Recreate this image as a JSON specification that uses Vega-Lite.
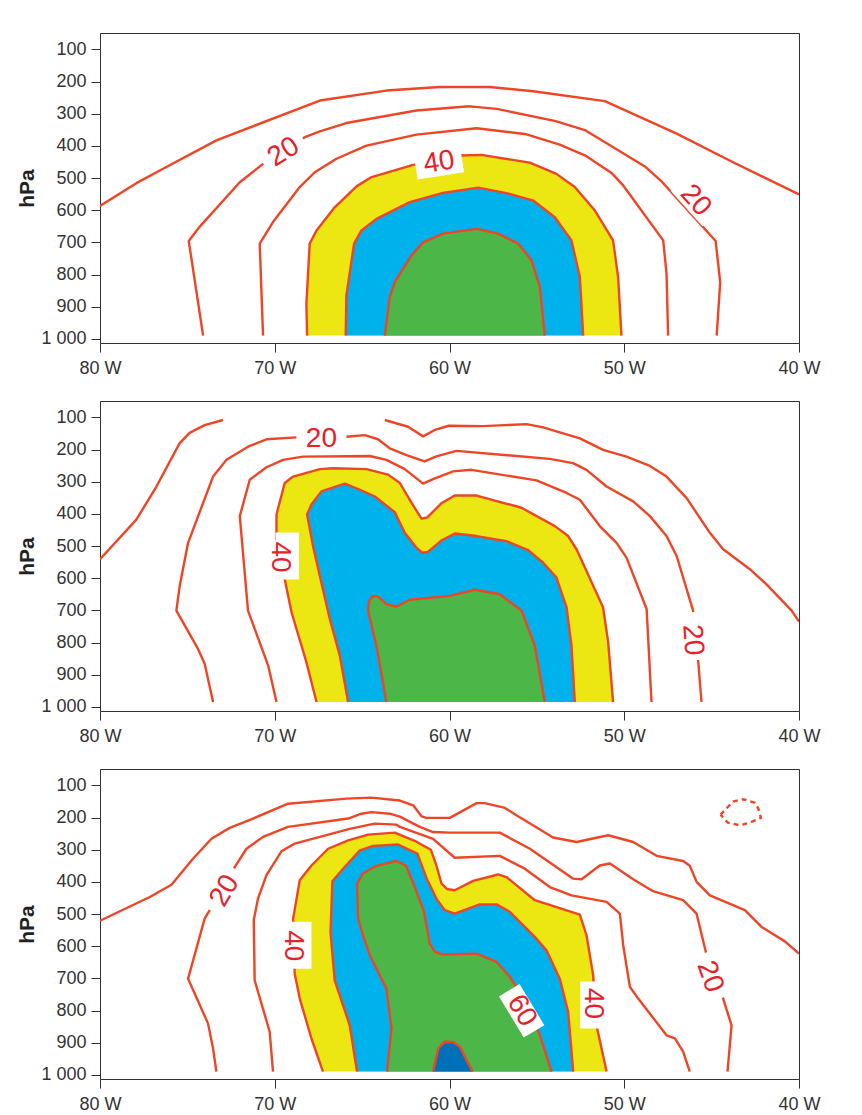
{
"$schema": "https://vega.github.io/schema/vega-lite/v6.json",
"padding": {"left": 15, "top": 32, "right": 5, "bottom": 2},
"background": "white",
"datasets": {
"pts": [
{"n":1,"k":"l","id":"1a","i":0,"x":-80,"p":587},{"n":1,"k":"l","id":"1a","i":1,"x":-77.92,"p":516},{"n":1,"k":"l","id":"1a","i":2,"x":-76.39,"p":471},{"n":1,"k":"l","id":"1a","i":3,"x":-73.34,"p":383},{"n":1,"k":"l","id":"1a","i":4,"x":-67.42,"p":259},{"n":1,"k":"l","id":"1a","i":5,"x":-63.61,"p":228},{"n":1,"k":"l","id":"1a","i":6,"x":-60.56,"p":217},{"n":1,"k":"l","id":"1a","i":7,"x":-57.7,"p":217},{"n":1,"k":"l","id":"1a","i":8,"x":-55.21,"p":230},{"n":1,"k":"l","id":"1a","i":9,"x":-51.11,"p":261},{"n":1,"k":"l","id":"1a","i":10,"x":-47.0,"p":362},{"n":1,"k":"l","id":"1a","i":11,"x":-43.77,"p":451},{"n":1,"k":"l","id":"1a","i":12,"x":-40,"p":551},
{"n":1,"k":"l","id":"1b","i":0,"x":-74.1,"p":990},{"n":1,"k":"l","id":"1b","i":1,"x":-74.92,"p":696},{"n":1,"k":"l","id":"1b","i":2,"x":-74.29,"p":651},{"n":1,"k":"l","id":"1b","i":3,"x":-72.0,"p":513},{"n":1,"k":"l","id":"1b","i":4,"x":-70.67,"p":456},{"n":1,"k":"l","id":"1b","i":5,"x":-68.28,"p":373},{"n":1,"k":"l","id":"1b","i":6,"x":-67.42,"p":355},{"n":1,"k":"l","id":"1b","i":7,"x":-65.9,"p":329},{"n":1,"k":"l","id":"1b","i":8,"x":-61.89,"p":290},{"n":1,"k":"l","id":"1b","i":9,"x":-58.84,"p":277},{"n":1,"k":"l","id":"1b","i":10,"x":-57.29,"p":285},{"n":1,"k":"l","id":"1b","i":11,"x":-53.92,"p":323},{"n":1,"k":"l","id":"1b","i":12,"x":-52.21,"p":352},{"n":1,"k":"l","id":"1b","i":13,"x":-48.77,"p":466},{"n":1,"k":"l","id":"1b","i":14,"x":-47.82,"p":513},{"n":1,"k":"l","id":"1b","i":15,"x":-45.91,"p":627},{"n":1,"k":"l","id":"1b","i":16,"x":-44.77,"p":696},{"n":1,"k":"l","id":"1b","i":17,"x":-44.51,"p":824},{"n":1,"k":"l","id":"1b","i":18,"x":-44.71,"p":990},
{"n":1,"k":"l","id":"1c","i":0,"x":-70.67,"p":990},{"n":1,"k":"l","id":"1c","i":1,"x":-70.86,"p":704},{"n":1,"k":"l","id":"1c","i":2,"x":-70.1,"p":637},{"n":1,"k":"l","id":"1c","i":3,"x":-68.57,"p":528},{"n":1,"k":"l","id":"1c","i":4,"x":-67.71,"p":482},{"n":1,"k":"l","id":"1c","i":5,"x":-66.47,"p":440},{"n":1,"k":"l","id":"1c","i":6,"x":-64.75,"p":399},{"n":1,"k":"l","id":"1c","i":7,"x":-61.89,"p":365},{"n":1,"k":"l","id":"1c","i":8,"x":-58.45,"p":345},{"n":1,"k":"l","id":"1c","i":9,"x":-55.59,"p":364},{"n":1,"k":"l","id":"1c","i":10,"x":-53.69,"p":396},{"n":1,"k":"l","id":"1c","i":11,"x":-52.16,"p":432},{"n":1,"k":"l","id":"1c","i":12,"x":-50.73,"p":484},{"n":1,"k":"l","id":"1c","i":13,"x":-50.06,"p":523},{"n":1,"k":"l","id":"1c","i":14,"x":-47.77,"p":694},{"n":1,"k":"l","id":"1c","i":15,"x":-47.58,"p":798},{"n":1,"k":"l","id":"1c","i":16,"x":-47.49,"p":990},
{"n":1,"k":"y","id":"1y","i":0,"x":-68.15,"p":990},{"n":1,"k":"y","id":"1y","i":1,"x":-68.19,"p":891},{"n":1,"k":"y","id":"1y","i":2,"x":-68.0,"p":704},{"n":1,"k":"y","id":"1y","i":3,"x":-67.61,"p":663},{"n":1,"k":"y","id":"1y","i":4,"x":-66.57,"p":591},{"n":1,"k":"y","id":"1y","i":5,"x":-65.32,"p":526},{"n":1,"k":"y","id":"1y","i":6,"x":-64.46,"p":497},{"n":1,"k":"y","id":"1y","i":7,"x":-62.08,"p":459},{"n":1,"k":"y","id":"1y","i":8,"x":-60.56,"p":445},{"n":1,"k":"y","id":"1y","i":9,"x":-59.31,"p":430},{"n":1,"k":"y","id":"1y","i":10,"x":-58.17,"p":428},{"n":1,"k":"y","id":"1y","i":11,"x":-55.4,"p":452},{"n":1,"k":"y","id":"1y","i":12,"x":-53.88,"p":487},{"n":1,"k":"y","id":"1y","i":13,"x":-52.83,"p":528},{"n":1,"k":"y","id":"1y","i":14,"x":-51.68,"p":601},{"n":1,"k":"y","id":"1y","i":15,"x":-50.64,"p":694},{"n":1,"k":"y","id":"1y","i":16,"x":-50.35,"p":808},{"n":1,"k":"y","id":"1y","i":17,"x":-50.16,"p":990},
{"n":1,"k":"c","id":"1cy","i":0,"x":-65.94,"p":990},{"n":1,"k":"c","id":"1cy","i":1,"x":-65.9,"p":865},{"n":1,"k":"c","id":"1cy","i":2,"x":-65.46,"p":704},{"n":1,"k":"c","id":"1cy","i":3,"x":-65.04,"p":663},{"n":1,"k":"c","id":"1cy","i":4,"x":-64.18,"p":627},{"n":1,"k":"c","id":"1cy","i":5,"x":-62.27,"p":575},{"n":1,"k":"c","id":"1cy","i":6,"x":-60.37,"p":546},{"n":1,"k":"c","id":"1cy","i":7,"x":-58.36,"p":530},{"n":1,"k":"c","id":"1cy","i":8,"x":-56.74,"p":547},{"n":1,"k":"c","id":"1cy","i":9,"x":-55.21,"p":570},{"n":1,"k":"c","id":"1cy","i":10,"x":-53.97,"p":622},{"n":1,"k":"c","id":"1cy","i":11,"x":-53.02,"p":694},{"n":1,"k":"c","id":"1cy","i":12,"x":-52.54,"p":808},{"n":1,"k":"c","id":"1cy","i":13,"x":-52.35,"p":990},
{"n":1,"k":"g","id":"1g","i":0,"x":-63.7,"p":990},{"n":1,"k":"g","id":"1g","i":1,"x":-63.42,"p":871},{"n":1,"k":"g","id":"1g","i":2,"x":-63.13,"p":824},{"n":1,"k":"g","id":"1g","i":3,"x":-62.18,"p":741},{"n":1,"k":"g","id":"1g","i":4,"x":-61.51,"p":700},{"n":1,"k":"g","id":"1g","i":5,"x":-60.37,"p":673},{"n":1,"k":"g","id":"1g","i":6,"x":-58.45,"p":658},{"n":1,"k":"g","id":"1g","i":7,"x":-57.22,"p":673},{"n":1,"k":"g","id":"1g","i":8,"x":-56.07,"p":704},{"n":1,"k":"g","id":"1g","i":9,"x":-55.31,"p":756},{"n":1,"k":"g","id":"1g","i":10,"x":-54.83,"p":839},{"n":1,"k":"g","id":"1g","i":11,"x":-54.55,"p":990},
{"n":1,"k":"bx","x":-69.48,"p":420,"a":-32,"s":2209},{"n":1,"k":"bx","x":-60.6,"p":457,"a":-9,"s":2209},{"n":1,"k":"bx","x":-45.92,"p":570,"a":48,"s":2304},
{"n":1,"k":"t","x":-69.48,"p":420,"a":-32,"t":"20"},{"n":1,"k":"t","x":-60.6,"p":452,"a":-9,"t":"40"},{"n":1,"k":"t","x":-45.92,"p":570,"a":48,"t":"20"},

{"n":2,"k":"l","id":"2a1","i":0,"x":-80,"p":541},{"n":2,"k":"l","id":"2a1","i":1,"x":-77.92,"p":418},{"n":2,"k":"l","id":"2a1","i":2,"x":-76.77,"p":315},{"n":2,"k":"l","id":"2a1","i":3,"x":-75.44,"p":180},{"n":2,"k":"l","id":"2a1","i":4,"x":-74.87,"p":148},{"n":2,"k":"l","id":"2a1","i":5,"x":-74.01,"p":124},{"n":2,"k":"l","id":"2a1","i":6,"x":-72.96,"p":108},
{"n":2,"k":"l","id":"2a2","i":0,"x":-63.7,"p":108},{"n":2,"k":"l","id":"2a2","i":1,"x":-62.37,"p":129},{"n":2,"k":"l","id":"2a2","i":2,"x":-61.51,"p":159},{"n":2,"k":"l","id":"2a2","i":3,"x":-60.84,"p":139},{"n":2,"k":"l","id":"2a2","i":4,"x":-60.04,"p":126},{"n":2,"k":"l","id":"2a2","i":5,"x":-58.08,"p":127},{"n":2,"k":"l","id":"2a2","i":6,"x":-55.59,"p":121},{"n":2,"k":"l","id":"2a2","i":7,"x":-54.64,"p":131},{"n":2,"k":"l","id":"2a2","i":8,"x":-52.54,"p":165},{"n":2,"k":"l","id":"2a2","i":9,"x":-51.21,"p":201},{"n":2,"k":"l","id":"2a2","i":10,"x":-49.87,"p":222},{"n":2,"k":"l","id":"2a2","i":11,"x":-48.53,"p":251},{"n":2,"k":"l","id":"2a2","i":12,"x":-47.58,"p":284},{"n":2,"k":"l","id":"2a2","i":13,"x":-46.43,"p":351},{"n":2,"k":"l","id":"2a2","i":14,"x":-45.1,"p":459},{"n":2,"k":"l","id":"2a2","i":15,"x":-44.34,"p":510},{"n":2,"k":"l","id":"2a2","i":16,"x":-42.81,"p":572},{"n":2,"k":"l","id":"2a2","i":17,"x":-41.86,"p":619},{"n":2,"k":"l","id":"2a2","i":18,"x":-40.42,"p":701},{"n":2,"k":"l","id":"2a2","i":19,"x":-40,"p":735},
{"n":2,"k":"l","id":"2b","i":0,"x":-73.53,"p":985},{"n":2,"k":"l","id":"2b","i":1,"x":-74.01,"p":866},{"n":2,"k":"l","id":"2b","i":2,"x":-74.39,"p":820},{"n":2,"k":"l","id":"2b","i":3,"x":-75.63,"p":701},{"n":2,"k":"l","id":"2b","i":4,"x":-75.44,"p":624},{"n":2,"k":"l","id":"2b","i":5,"x":-74.96,"p":490},{"n":2,"k":"l","id":"2b","i":6,"x":-73.53,"p":284},{"n":2,"k":"l","id":"2b","i":7,"x":-72.76,"p":232},{"n":2,"k":"l","id":"2b","i":8,"x":-71.53,"p":191},{"n":2,"k":"l","id":"2b","i":9,"x":-70.47,"p":168},{"n":2,"k":"l","id":"2b","i":10,"x":-68.76,"p":162},{"n":2,"k":"l","id":"2b","i":11,"x":-67.33,"p":161},{"n":2,"k":"l","id":"2b","i":12,"x":-65.9,"p":160},{"n":2,"k":"l","id":"2b","i":13,"x":-64.85,"p":155},{"n":2,"k":"l","id":"2b","i":14,"x":-64.09,"p":168},{"n":2,"k":"l","id":"2b","i":15,"x":-63.42,"p":196},{"n":2,"k":"l","id":"2b","i":16,"x":-62.46,"p":217},{"n":2,"k":"l","id":"2b","i":17,"x":-61.42,"p":237},{"n":2,"k":"l","id":"2b","i":18,"x":-60.75,"p":221},{"n":2,"k":"l","id":"2b","i":19,"x":-59.6,"p":204},{"n":2,"k":"l","id":"2b","i":20,"x":-54.26,"p":229},{"n":2,"k":"l","id":"2b","i":21,"x":-52.93,"p":242},{"n":2,"k":"l","id":"2b","i":22,"x":-52.16,"p":263},{"n":2,"k":"l","id":"2b","i":23,"x":-51.01,"p":315},{"n":2,"k":"l","id":"2b","i":24,"x":-49.49,"p":361},{"n":2,"k":"l","id":"2b","i":25,"x":-48.53,"p":407},{"n":2,"k":"l","id":"2b","i":26,"x":-47.58,"p":469},{"n":2,"k":"l","id":"2b","i":27,"x":-47.0,"p":531},{"n":2,"k":"l","id":"2b","i":28,"x":-46.06,"p":701},{"n":2,"k":"l","id":"2b","i":29,"x":-45.9,"p":780},{"n":2,"k":"l","id":"2b","i":30,"x":-45.77,"p":856},{"n":2,"k":"l","id":"2b","i":31,"x":-45.58,"p":985},
{"n":2,"k":"l","id":"2c","i":0,"x":-69.9,"p":985},{"n":2,"k":"l","id":"2c","i":1,"x":-70.38,"p":871},{"n":2,"k":"l","id":"2c","i":2,"x":-71.53,"p":701},{"n":2,"k":"l","id":"2c","i":3,"x":-72.0,"p":407},{"n":2,"k":"l","id":"2c","i":4,"x":-71.43,"p":294},{"n":2,"k":"l","id":"2c","i":5,"x":-70.47,"p":255},{"n":2,"k":"l","id":"2c","i":6,"x":-69.52,"p":232},{"n":2,"k":"l","id":"2c","i":7,"x":-68.38,"p":222},{"n":2,"k":"l","id":"2c","i":8,"x":-64.56,"p":220},{"n":2,"k":"l","id":"2c","i":9,"x":-63.61,"p":232},{"n":2,"k":"l","id":"2c","i":10,"x":-62.56,"p":261},{"n":2,"k":"l","id":"2c","i":11,"x":-61.51,"p":306},{"n":2,"k":"l","id":"2c","i":12,"x":-60.94,"p":292},{"n":2,"k":"l","id":"2c","i":13,"x":-59.79,"p":268},{"n":2,"k":"l","id":"2c","i":14,"x":-58.74,"p":263},{"n":2,"k":"l","id":"2c","i":15,"x":-55.02,"p":296},{"n":2,"k":"l","id":"2c","i":16,"x":-53.3,"p":335},{"n":2,"k":"l","id":"2c","i":17,"x":-52.54,"p":356},{"n":2,"k":"l","id":"2c","i":18,"x":-51.4,"p":438},{"n":2,"k":"l","id":"2c","i":19,"x":-50.44,"p":490},{"n":2,"k":"l","id":"2c","i":20,"x":-49.87,"p":536},{"n":2,"k":"l","id":"2c","i":21,"x":-48.72,"p":696},{"n":2,"k":"l","id":"2c","i":22,"x":-48.44,"p":985},
{"n":2,"k":"y","id":"2y","i":0,"x":-67.61,"p":985},{"n":2,"k":"y","id":"2y","i":1,"x":-68.19,"p":861},{"n":2,"k":"y","id":"2y","i":2,"x":-69.04,"p":706},{"n":2,"k":"y","id":"2y","i":3,"x":-69.43,"p":603},{"n":2,"k":"y","id":"2y","i":4,"x":-69.9,"p":480},{"n":2,"k":"y","id":"2y","i":5,"x":-69.9,"p":402},{"n":2,"k":"y","id":"2y","i":6,"x":-69.43,"p":304},{"n":2,"k":"y","id":"2y","i":7,"x":-68.95,"p":284},{"n":2,"k":"y","id":"2y","i":8,"x":-67.42,"p":261},{"n":2,"k":"y","id":"2y","i":9,"x":-66.66,"p":258},{"n":2,"k":"y","id":"2y","i":10,"x":-64.75,"p":261},{"n":2,"k":"y","id":"2y","i":11,"x":-63.51,"p":278},{"n":2,"k":"y","id":"2y","i":12,"x":-62.84,"p":304},{"n":2,"k":"y","id":"2y","i":13,"x":-62.17,"p":366},{"n":2,"k":"y","id":"2y","i":14,"x":-61.6,"p":415},{"n":2,"k":"y","id":"2y","i":15,"x":-61.27,"p":411},{"n":2,"k":"y","id":"2y","i":16,"x":-60.44,"p":366},{"n":2,"k":"y","id":"2y","i":17,"x":-59.7,"p":343},{"n":2,"k":"y","id":"2y","i":18,"x":-58.45,"p":343},{"n":2,"k":"y","id":"2y","i":19,"x":-55.88,"p":381},{"n":2,"k":"y","id":"2y","i":20,"x":-53.97,"p":438},{"n":2,"k":"y","id":"2y","i":21,"x":-53.21,"p":469},{"n":2,"k":"y","id":"2y","i":22,"x":-52.73,"p":510},{"n":2,"k":"y","id":"2y","i":23,"x":-51.21,"p":691},{"n":2,"k":"y","id":"2y","i":24,"x":-50.92,"p":799},{"n":2,"k":"y","id":"2y","i":25,"x":-50.64,"p":985},
{"n":2,"k":"c","id":"2cy","i":0,"x":-65.8,"p":985},{"n":2,"k":"c","id":"2cy","i":1,"x":-66.28,"p":840},{"n":2,"k":"c","id":"2cy","i":2,"x":-66.85,"p":727},{"n":2,"k":"c","id":"2cy","i":3,"x":-67.42,"p":593},{"n":2,"k":"c","id":"2cy","i":4,"x":-67.81,"p":500},{"n":2,"k":"c","id":"2cy","i":5,"x":-68.15,"p":402},{"n":2,"k":"c","id":"2cy","i":6,"x":-67.9,"p":371},{"n":2,"k":"c","id":"2cy","i":7,"x":-67.33,"p":330},{"n":2,"k":"c","id":"2cy","i":8,"x":-65.99,"p":306},{"n":2,"k":"c","id":"2cy","i":9,"x":-65.13,"p":325},{"n":2,"k":"c","id":"2cy","i":10,"x":-64.27,"p":346},{"n":2,"k":"c","id":"2cy","i":11,"x":-63.13,"p":395},{"n":2,"k":"c","id":"2cy","i":12,"x":-62.56,"p":459},{"n":2,"k":"c","id":"2cy","i":13,"x":-61.89,"p":505},{"n":2,"k":"c","id":"2cy","i":14,"x":-61.55,"p":521},{"n":2,"k":"c","id":"2cy","i":15,"x":-61.24,"p":518},{"n":2,"k":"c","id":"2cy","i":16,"x":-60.44,"p":482},{"n":2,"k":"c","id":"2cy","i":17,"x":-59.7,"p":461},{"n":2,"k":"c","id":"2cy","i":18,"x":-58.45,"p":469},{"n":2,"k":"c","id":"2cy","i":19,"x":-56.74,"p":485},{"n":2,"k":"c","id":"2cy","i":20,"x":-55.5,"p":513},{"n":2,"k":"c","id":"2cy","i":21,"x":-54.64,"p":552},{"n":2,"k":"c","id":"2cy","i":22,"x":-53.88,"p":598},{"n":2,"k":"c","id":"2cy","i":23,"x":-53.3,"p":691},{"n":2,"k":"c","id":"2cy","i":24,"x":-53.02,"p":810},{"n":2,"k":"c","id":"2cy","i":25,"x":-52.83,"p":985},
{"n":2,"k":"g","id":"2g","i":0,"x":-63.61,"p":985},{"n":2,"k":"g","id":"2g","i":1,"x":-64.18,"p":810},{"n":2,"k":"g","id":"2g","i":2,"x":-64.66,"p":701},{"n":2,"k":"g","id":"2g","i":3,"x":-64.6,"p":670},{"n":2,"k":"g","id":"2g","i":4,"x":-64.37,"p":655},{"n":2,"k":"g","id":"2g","i":5,"x":-64.09,"p":657},{"n":2,"k":"g","id":"2g","i":6,"x":-63.61,"p":681},{"n":2,"k":"g","id":"2g","i":7,"x":-63.03,"p":688},{"n":2,"k":"g","id":"2g","i":8,"x":-62.27,"p":667},{"n":2,"k":"g","id":"2g","i":9,"x":-59.98,"p":655},{"n":2,"k":"g","id":"2g","i":10,"x":-58.55,"p":636},{"n":2,"k":"g","id":"2g","i":11,"x":-57.12,"p":650},{"n":2,"k":"g","id":"2g","i":12,"x":-55.88,"p":701},{"n":2,"k":"g","id":"2g","i":13,"x":-55.12,"p":810},{"n":2,"k":"g","id":"2g","i":14,"x":-54.55,"p":985},
{"n":2,"k":"bx","x":-67.33,"p":163,"a":0,"s":2500},{"n":2,"k":"bx","x":-69.28,"p":531,"a":90,"s":2209},{"n":2,"k":"bx","x":-45.96,"p":780,"a":86,"s":2304},
{"n":2,"k":"t","x":-67.33,"p":166,"a":0,"t":"20"},{"n":2,"k":"t","x":-69.72,"p":534,"a":90,"t":"40"},{"n":2,"k":"t","x":-46.1,"p":792,"a":86,"t":"20"},

{"n":3,"k":"l","id":"3a","i":0,"x":-80,"p":521},{"n":3,"k":"l","id":"3a","i":1,"x":-77.15,"p":447},{"n":3,"k":"l","id":"3a","i":2,"x":-75.91,"p":409},{"n":3,"k":"l","id":"3a","i":3,"x":-74.68,"p":328},{"n":3,"k":"l","id":"3a","i":4,"x":-73.62,"p":266},{"n":3,"k":"l","id":"3a","i":5,"x":-72.58,"p":232},{"n":3,"k":"l","id":"3a","i":6,"x":-71.24,"p":203},{"n":3,"k":"l","id":"3a","i":7,"x":-69.24,"p":157},{"n":3,"k":"l","id":"3a","i":8,"x":-65.9,"p":141},{"n":3,"k":"l","id":"3a","i":9,"x":-64.47,"p":138},{"n":3,"k":"l","id":"3a","i":10,"x":-62.84,"p":147},{"n":3,"k":"l","id":"3a","i":11,"x":-62.08,"p":162},{"n":3,"k":"l","id":"3a","i":12,"x":-61.6,"p":196},{"n":3,"k":"l","id":"3a","i":13,"x":-61.32,"p":201},{"n":3,"k":"l","id":"3a","i":14,"x":-59.98,"p":201},{"n":3,"k":"l","id":"3a","i":15,"x":-58.45,"p":155},{"n":3,"k":"l","id":"3a","i":16,"x":-57.98,"p":155},{"n":3,"k":"l","id":"3a","i":17,"x":-56.83,"p":170},{"n":3,"k":"l","id":"3a","i":18,"x":-56.17,"p":193},{"n":3,"k":"l","id":"3a","i":19,"x":-54.07,"p":262},{"n":3,"k":"l","id":"3a","i":20,"x":-52.73,"p":276},{"n":3,"k":"l","id":"3a","i":21,"x":-50.92,"p":255},{"n":3,"k":"l","id":"3a","i":22,"x":-49.49,"p":276},{"n":3,"k":"l","id":"3a","i":23,"x":-48.15,"p":319},{"n":3,"k":"l","id":"3a","i":24,"x":-46.63,"p":335},{"n":3,"k":"l","id":"3a","i":25,"x":-46.25,"p":350},{"n":3,"k":"l","id":"3a","i":26,"x":-45.86,"p":400},{"n":3,"k":"l","id":"3a","i":27,"x":-45.1,"p":442},{"n":3,"k":"l","id":"3a","i":28,"x":-43.1,"p":488},{"n":3,"k":"l","id":"3a","i":29,"x":-42.14,"p":540},{"n":3,"k":"l","id":"3a","i":30,"x":-40.81,"p":585},{"n":3,"k":"l","id":"3a","i":31,"x":-40,"p":623},
{"n":3,"k":"l","id":"3b","i":0,"x":-73.34,"p":990},{"n":3,"k":"l","id":"3b","i":1,"x":-73.53,"p":918},{"n":3,"k":"l","id":"3b","i":2,"x":-73.82,"p":840},{"n":3,"k":"l","id":"3b","i":3,"x":-74.96,"p":701},{"n":3,"k":"l","id":"3b","i":4,"x":-74.48,"p":607},{"n":3,"k":"l","id":"3b","i":5,"x":-74.01,"p":514},{"n":3,"k":"l","id":"3b","i":6,"x":-73.72,"p":488},{"n":3,"k":"l","id":"3b","i":7,"x":-73.0,"p":421},{"n":3,"k":"l","id":"3b","i":8,"x":-72.29,"p":354},{"n":3,"k":"l","id":"3b","i":9,"x":-71.62,"p":297},{"n":3,"k":"l","id":"3b","i":10,"x":-70.67,"p":260},{"n":3,"k":"l","id":"3b","i":11,"x":-69.24,"p":229},{"n":3,"k":"l","id":"3b","i":12,"x":-65.8,"p":203},{"n":3,"k":"l","id":"3b","i":13,"x":-65.04,"p":188},{"n":3,"k":"l","id":"3b","i":14,"x":-64.47,"p":183},{"n":3,"k":"l","id":"3b","i":15,"x":-63.42,"p":188},{"n":3,"k":"l","id":"3b","i":16,"x":-62.84,"p":197},{"n":3,"k":"l","id":"3b","i":17,"x":-61.7,"p":229},{"n":3,"k":"l","id":"3b","i":18,"x":-60.94,"p":245},{"n":3,"k":"l","id":"3b","i":19,"x":-59.98,"p":247},{"n":3,"k":"l","id":"3b","i":20,"x":-57.12,"p":247},{"n":3,"k":"l","id":"3b","i":21,"x":-55.4,"p":297},{"n":3,"k":"l","id":"3b","i":22,"x":-52.92,"p":390},{"n":3,"k":"l","id":"3b","i":23,"x":-52.44,"p":392},{"n":3,"k":"l","id":"3b","i":24,"x":-51.4,"p":349},{"n":3,"k":"l","id":"3b","i":25,"x":-50.82,"p":343},{"n":3,"k":"l","id":"3b","i":26,"x":-49.49,"p":392},{"n":3,"k":"l","id":"3b","i":27,"x":-48.35,"p":429},{"n":3,"k":"l","id":"3b","i":28,"x":-46.63,"p":457},{"n":3,"k":"l","id":"3b","i":29,"x":-45.86,"p":499},{"n":3,"k":"l","id":"3b","i":30,"x":-45.33,"p":618},{"n":3,"k":"l","id":"3b","i":31,"x":-44.85,"p":690},{"n":3,"k":"l","id":"3b","i":32,"x":-44.34,"p":763},{"n":3,"k":"l","id":"3b","i":33,"x":-43.86,"p":846},{"n":3,"k":"l","id":"3b","i":34,"x":-44.09,"p":990},
{"n":3,"k":"l","id":"3c","i":0,"x":-70.1,"p":990},{"n":3,"k":"l","id":"3c","i":1,"x":-70.29,"p":866},{"n":3,"k":"l","id":"3c","i":2,"x":-71.15,"p":706},{"n":3,"k":"l","id":"3c","i":3,"x":-71.2,"p":519},{"n":3,"k":"l","id":"3c","i":4,"x":-70.96,"p":452},{"n":3,"k":"l","id":"3c","i":5,"x":-70.48,"p":380},{"n":3,"k":"l","id":"3c","i":6,"x":-69.62,"p":305},{"n":3,"k":"l","id":"3c","i":7,"x":-68.86,"p":281},{"n":3,"k":"l","id":"3c","i":8,"x":-65.71,"p":235},{"n":3,"k":"l","id":"3c","i":9,"x":-64.28,"p":219},{"n":3,"k":"l","id":"3c","i":10,"x":-63.03,"p":222},{"n":3,"k":"l","id":"3c","i":11,"x":-62.84,"p":229},{"n":3,"k":"l","id":"3c","i":12,"x":-60.94,"p":266},{"n":3,"k":"l","id":"3c","i":13,"x":-59.7,"p":325},{"n":3,"k":"l","id":"3c","i":14,"x":-57.12,"p":319},{"n":3,"k":"l","id":"3c","i":15,"x":-55.69,"p":359},{"n":3,"k":"l","id":"3c","i":16,"x":-54.26,"p":416},{"n":3,"k":"l","id":"3c","i":17,"x":-53.02,"p":442},{"n":3,"k":"l","id":"3c","i":18,"x":-51.01,"p":462},{"n":3,"k":"l","id":"3c","i":19,"x":-50.25,"p":499},{"n":3,"k":"l","id":"3c","i":20,"x":-50.06,"p":597},{"n":3,"k":"l","id":"3c","i":21,"x":-49.68,"p":726},{"n":3,"k":"l","id":"3c","i":22,"x":-49.2,"p":763},{"n":3,"k":"l","id":"3c","i":23,"x":-47.58,"p":877},{"n":3,"k":"l","id":"3c","i":24,"x":-47.1,"p":887},{"n":3,"k":"l","id":"3c","i":25,"x":-46.63,"p":928},{"n":3,"k":"l","id":"3c","i":26,"x":-46.25,"p":990},
{"n":3,"k":"y","id":"3y","i":0,"x":-67.24,"p":990},{"n":3,"k":"y","id":"3y","i":1,"x":-67.9,"p":887},{"n":3,"k":"y","id":"3y","i":2,"x":-68.57,"p":763},{"n":3,"k":"y","id":"3y","i":3,"x":-68.86,"p":685},{"n":3,"k":"y","id":"3y","i":4,"x":-68.95,"p":515},{"n":3,"k":"y","id":"3y","i":5,"x":-68.57,"p":395},{"n":3,"k":"y","id":"3y","i":6,"x":-67.9,"p":349},{"n":3,"k":"y","id":"3y","i":7,"x":-66.95,"p":297},{"n":3,"k":"y","id":"3y","i":8,"x":-65.8,"p":271},{"n":3,"k":"y","id":"3y","i":9,"x":-64.66,"p":253},{"n":3,"k":"y","id":"3y","i":10,"x":-63.13,"p":247},{"n":3,"k":"y","id":"3y","i":11,"x":-61.89,"p":275},{"n":3,"k":"y","id":"3y","i":12,"x":-61.07,"p":300},{"n":3,"k":"y","id":"3y","i":13,"x":-60.75,"p":349},{"n":3,"k":"y","id":"3y","i":14,"x":-60.46,"p":405},{"n":3,"k":"y","id":"3y","i":15,"x":-60.15,"p":422},{"n":3,"k":"y","id":"3y","i":16,"x":-59.7,"p":426},{"n":3,"k":"y","id":"3y","i":17,"x":-58.65,"p":397},{"n":3,"k":"y","id":"3y","i":18,"x":-57.22,"p":377},{"n":3,"k":"y","id":"3y","i":19,"x":-56.74,"p":385},{"n":3,"k":"y","id":"3y","i":20,"x":-55.12,"p":457},{"n":3,"k":"y","id":"3y","i":21,"x":-52.54,"p":502},{"n":3,"k":"y","id":"3y","i":22,"x":-52.16,"p":566},{"n":3,"k":"y","id":"3y","i":23,"x":-51.78,"p":690},{"n":3,"k":"y","id":"3y","i":24,"x":-51.59,"p":846},{"n":3,"k":"y","id":"3y","i":25,"x":-51.01,"p":990},
{"n":3,"k":"c","id":"3cy","i":0,"x":-65.29,"p":990},{"n":3,"k":"c","id":"3cy","i":1,"x":-65.71,"p":846},{"n":3,"k":"c","id":"3cy","i":2,"x":-66.57,"p":706},{"n":3,"k":"c","id":"3cy","i":3,"x":-66.81,"p":556},{"n":3,"k":"c","id":"3cy","i":4,"x":-66.7,"p":398},{"n":3,"k":"c","id":"3cy","i":5,"x":-66.09,"p":359},{"n":3,"k":"c","id":"3cy","i":6,"x":-65.13,"p":302},{"n":3,"k":"c","id":"3cy","i":7,"x":-64.37,"p":288},{"n":3,"k":"c","id":"3cy","i":8,"x":-62.94,"p":284},{"n":3,"k":"c","id":"3cy","i":9,"x":-61.84,"p":312},{"n":3,"k":"c","id":"3cy","i":10,"x":-61.3,"p":390},{"n":3,"k":"c","id":"3cy","i":11,"x":-60.75,"p":452},{"n":3,"k":"c","id":"3cy","i":12,"x":-60.27,"p":488},{"n":3,"k":"c","id":"3cy","i":13,"x":-59.7,"p":499},{"n":3,"k":"c","id":"3cy","i":14,"x":-58.27,"p":470},{"n":3,"k":"c","id":"3cy","i":15,"x":-57.31,"p":470},{"n":3,"k":"c","id":"3cy","i":16,"x":-56.55,"p":493},{"n":3,"k":"c","id":"3cy","i":17,"x":-55.12,"p":571},{"n":3,"k":"c","id":"3cy","i":18,"x":-54.45,"p":613},{"n":3,"k":"c","id":"3cy","i":19,"x":-53.69,"p":701},{"n":3,"k":"c","id":"3cy","i":20,"x":-53.21,"p":804},{"n":3,"k":"c","id":"3cy","i":21,"x":-52.92,"p":990},
{"n":3,"k":"g","id":"3g","i":0,"x":-63.57,"p":990},{"n":3,"k":"g","id":"3g","i":1,"x":-63.32,"p":856},{"n":3,"k":"g","id":"3g","i":2,"x":-63.61,"p":732},{"n":3,"k":"g","id":"3g","i":3,"x":-64.56,"p":628},{"n":3,"k":"g","id":"3g","i":4,"x":-64.95,"p":566},{"n":3,"k":"g","id":"3g","i":5,"x":-65.23,"p":514},{"n":3,"k":"g","id":"3g","i":6,"x":-65.29,"p":406},{"n":3,"k":"g","id":"3g","i":7,"x":-64.95,"p":374},{"n":3,"k":"g","id":"3g","i":8,"x":-64.18,"p":350},{"n":3,"k":"g","id":"3g","i":9,"x":-63.03,"p":335},{"n":3,"k":"g","id":"3g","i":10,"x":-62.5,"p":349},{"n":3,"k":"g","id":"3g","i":11,"x":-61.99,"p":416},{"n":3,"k":"g","id":"3g","i":12,"x":-61.47,"p":491},{"n":3,"k":"g","id":"3g","i":13,"x":-61.13,"p":592},{"n":3,"k":"g","id":"3g","i":14,"x":-60.84,"p":617},{"n":3,"k":"g","id":"3g","i":15,"x":-60.37,"p":626},{"n":3,"k":"g","id":"3g","i":16,"x":-58.45,"p":623},{"n":3,"k":"g","id":"3g","i":17,"x":-57.31,"p":649},{"n":3,"k":"g","id":"3g","i":18,"x":-56.55,"p":695},{"n":3,"k":"g","id":"3g","i":19,"x":-55.59,"p":778},{"n":3,"k":"g","id":"3g","i":20,"x":-54.83,"p":877},{"n":3,"k":"g","id":"3g","i":21,"x":-54.16,"p":990},
{"n":3,"k":"b","id":"3b2","i":0,"x":-60.94,"p":990},{"n":3,"k":"b","id":"3b2","i":1,"x":-60.64,"p":918},{"n":3,"k":"b","id":"3b2","i":2,"x":-60.27,"p":897},{"n":3,"k":"b","id":"3b2","i":3,"x":-59.79,"p":898},{"n":3,"k":"b","id":"3b2","i":4,"x":-59.41,"p":913},{"n":3,"k":"b","id":"3b2","i":5,"x":-58.68,"p":990},
{"n":3,"k":"d","id":"3d","i":0,"x":-44.49,"p":191},{"n":3,"k":"d","id":"3d","i":1,"x":-43.77,"p":150},{"n":3,"k":"d","id":"3d","i":2,"x":-43.19,"p":143},{"n":3,"k":"d","id":"3d","i":3,"x":-42.52,"p":154},{"n":3,"k":"d","id":"3d","i":4,"x":-42.33,"p":172},{"n":3,"k":"d","id":"3d","i":5,"x":-42.18,"p":201},{"n":3,"k":"d","id":"3d","i":6,"x":-42.81,"p":216},{"n":3,"k":"d","id":"3d","i":7,"x":-43.39,"p":224},{"n":3,"k":"d","id":"3d","i":8,"x":-44.07,"p":216},{"n":3,"k":"d","id":"3d","i":9,"x":-44.49,"p":191},
{"n":3,"k":"bx","x":-72.86,"p":428,"a":-60,"s":2304},{"n":3,"k":"bx","x":-68.57,"p":597,"a":90,"s":2209},{"n":3,"k":"bx","x":-55.87,"p":801,"a":59,"s":2304},{"n":3,"k":"bx","x":-51.85,"p":783,"a":90,"s":2209},{"n":3,"k":"bx","x":-45.1,"p":695,"a":70,"s":2304},
{"n":3,"k":"t","x":-72.86,"p":428,"a":-60,"t":"20"},{"n":3,"k":"t","x":-68.95,"p":599,"a":90,"t":"40"},{"n":3,"k":"t","x":-55.87,"p":801,"a":59,"t":"60"},{"n":3,"k":"t","x":-51.76,"p":778,"a":90,"t":"40"},{"n":3,"k":"t","x":-45.1,"p":695,"a":70,"t":"20"}
]
},
"data": {"name": "pts"},
"facet": {"row": {"field": "n", "type": "ordinal", "header": {"title": null, "labels": false}}},
"spacing": {"row": 22},
"resolve": {"axis": {"x": "independent", "y": "independent"}},
"spec": {
"width": 699,
"height": 310,
"layer": [
{"transform": [{"filter": "datum.k == 'y'"}],
 "mark": {"type": "line", "fill": "#ECE612", "stroke": "#EE4526", "strokeWidth": 2.4, "strokeJoin": "round", "clip": true},
 "encoding": {
  "x": {"field": "x", "type": "quantitative", "scale": {"domain": [-80, -40], "nice": false, "zero": false},
        "axis": {"title": null, "values": [-80, -70, -60, -50, -40], "tickCount": 10, "labelExpr": "abs(datum.value) + ' W'"}},
  "y": {"field": "p", "type": "quantitative", "scale": {"domain": [49, 1013], "reverse": true, "nice": false, "zero": false},
        "axis": {"title": "hPa", "values": [100, 200, 300, 400, 500, 600, 700, 800, 900, 1000], "tickCount": 20, "labelExpr": "datum.value == 1000 ? '1 000' : datum.label", "labelPadding": 5, "titleX": -73, "titleY": 155, "titleBaseline": "middle", "titleAngle": -90}},
  "detail": {"field": "id"},
  "order": {"field": "i", "type": "quantitative"}}},
{"transform": [{"filter": "datum.k == 'c'"}],
 "mark": {"type": "line", "fill": "#00B2EB", "stroke": "#EE4526", "strokeWidth": 2.4, "strokeJoin": "round", "clip": true},
 "encoding": {"x": {"field": "x", "type": "quantitative"}, "y": {"field": "p", "type": "quantitative"}, "detail": {"field": "id"}, "order": {"field": "i", "type": "quantitative"}}},
{"transform": [{"filter": "datum.k == 'g'"}],
 "mark": {"type": "line", "fill": "#4CB748", "stroke": "#EE4526", "strokeWidth": 2.4, "strokeJoin": "round", "clip": true},
 "encoding": {"x": {"field": "x", "type": "quantitative"}, "y": {"field": "p", "type": "quantitative"}, "detail": {"field": "id"}, "order": {"field": "i", "type": "quantitative"}}},
{"transform": [{"filter": "datum.k == 'b'"}],
 "mark": {"type": "line", "fill": "#0071B8", "stroke": "#EE4526", "strokeWidth": 2.4, "strokeJoin": "round", "clip": true},
 "encoding": {"x": {"field": "x", "type": "quantitative"}, "y": {"field": "p", "type": "quantitative"}, "detail": {"field": "id"}, "order": {"field": "i", "type": "quantitative"}}},
{"transform": [{"filter": "datum.k == 'l'"}],
 "mark": {"type": "line", "stroke": "#EE4526", "strokeWidth": 2.4, "strokeJoin": "round", "clip": true},
 "encoding": {"x": {"field": "x", "type": "quantitative"}, "y": {"field": "p", "type": "quantitative"}, "detail": {"field": "id"}, "order": {"field": "i", "type": "quantitative"}}},
{"transform": [{"filter": "datum.k == 'd'"}],
 "mark": {"type": "line", "stroke": "#EE4526", "strokeWidth": 2.4, "strokeDash": [5, 4], "clip": true},
 "encoding": {"x": {"field": "x", "type": "quantitative"}, "y": {"field": "p", "type": "quantitative"}, "detail": {"field": "id"}, "order": {"field": "i", "type": "quantitative"}}},
{"transform": [{"filter": "datum.k == 'bx'"}],
 "mark": {"type": "point", "shape": "M-1,-0.5L1,-0.5L1,0.5L-1,0.5Z", "filled": true, "color": "white", "opacity": 1, "strokeWidth": 0},
 "encoding": {"x": {"field": "x", "type": "quantitative"}, "y": {"field": "p", "type": "quantitative"}, "size": {"field": "s", "type": "quantitative", "scale": null}, "angle": {"field": "a", "type": "quantitative", "scale": null}}},
{"transform": [{"filter": "datum.k == 't'"}],
 "mark": {"type": "text", "font": "Liberation Sans", "fontSize": 28, "color": "#E8202A", "align": "center", "baseline": "middle"},
 "encoding": {"x": {"field": "x", "type": "quantitative"}, "y": {"field": "p", "type": "quantitative"}, "text": {"field": "t"}, "angle": {"field": "a", "type": "quantitative", "scale": null}}}
]
},
"config": {
 "view": {"stroke": "#333", "strokeWidth": 1},
 "font": "Liberation Sans",
 "axis": {"grid": false, "domain": false, "tickSize": 9, "tickColor": "#333", "labelFontSize": 18, "labelFont": "Liberation Sans", "labelColor": "#333", "labelOverlap": false, "labelFlush": false, "labelBound": false, "titleFont": "Liberation Sans", "titleFontSize": 21, "titleFontWeight": "bold", "titleColor": "#222"},
 "axisX": {"labelPadding": 7},
 "axisY": {"labelPadding": 5, "labelOverlap": false}
}
}
